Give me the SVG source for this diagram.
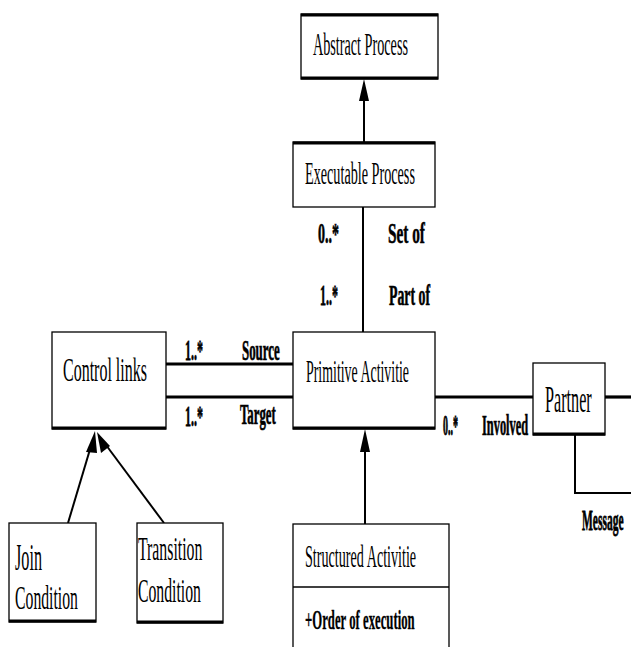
<svg xmlns="http://www.w3.org/2000/svg" width="631" height="647" viewBox="0 0 631 647">
<style>
.box{fill:#fff;stroke:#000;stroke-width:1.3}
.edge{stroke:#000;stroke-width:3;fill:none}
.t{font-family:"Liberation Serif",serif;fill:#000}
.b{font-family:"Liberation Serif",serif;font-weight:bold;fill:#000;stroke:#000;stroke-width:0.3}
.ln{stroke:#000;stroke-width:2;fill:none}
.thk{stroke:#000;stroke-width:3.2;fill:none}
.ah{fill:#000}
</style>
<rect width="631" height="647" fill="#fff"/>
<g id="connectors">
<line class="ln" x1="364" y1="142" x2="364" y2="95"/>
<polygon class="ah" points="364,79 359,101 369,101"/>
<line class="ln" x1="363" y1="207" x2="363" y2="332"/>
<line class="thk" x1="166" y1="364" x2="293" y2="364"/>
<line class="thk" x1="166" y1="397" x2="293" y2="397"/>
<line class="thk" x1="435" y1="397" x2="533" y2="397"/>
<line class="thk" x1="605" y1="397" x2="631" y2="397"/>
<polyline class="ln" points="575,435 575,493 631,493"/>
<line class="ln" x1="365" y1="524" x2="365" y2="445"/>
<polygon class="ah" points="365,429 360,452 370,452"/>
<line class="ln" x1="68" y1="523" x2="91" y2="446"/>
<polygon class="ah" points="95,431 86,452 97,453"/>
<line class="ln" x1="164" y1="523" x2="106" y2="445"/>
<polygon class="ah" points="97,432 101,453 110,446"/>
<text class="b" transform="translate(318,243) scale(1,2.16)" font-size="14">0..*</text>
<text class="b" transform="translate(388,243) scale(1,1.97)" font-size="15.3">Set of</text>
<text class="b" transform="translate(320,305) scale(1,2.5)" font-size="12">1..*</text>
<text class="b" transform="translate(389,305) scale(1,2.19)" font-size="13.8">Part of</text>
<text class="b" transform="translate(185,360) scale(1,2.5)" font-size="12">1..*</text>
<text class="b" transform="translate(242,360) scale(1,2.34)" font-size="12.9">Source</text>
<text class="b" transform="translate(185,426) scale(1,2.5)" font-size="12">1..*</text>
<text class="b" transform="translate(240,424) scale(1,2.36)" font-size="12.8">Target</text>
<text class="b" transform="translate(443,435) scale(1,3)" font-size="10">0..*</text>
<text class="b" transform="translate(482,435) scale(1,2.44)" font-size="12.4">Involved</text>
<text class="b" transform="translate(582,530) scale(1,2.6)" font-size="11.5">Message</text>
</g>
<g id="abstract-process">
<rect class="box" x="301" y="14" width="137" height="65"/>
<line class="edge" x1="301" y1="15" x2="438" y2="15"/>
<line class="edge" x1="301" y1="78" x2="438" y2="78"/>
<text class="t" transform="translate(313,55) scale(1,2.23)" font-size="14.2">Abstract Process</text>
</g>
<g id="executable-process">
<rect class="box" x="293" y="142" width="142" height="65"/>
<line class="edge" x1="293" y1="143" x2="435" y2="143"/>
<text class="t" transform="translate(305,184) scale(1,2.23)" font-size="14.2">Executable Process</text>
</g>
<g id="control-links">
<rect class="box" x="52" y="332" width="114" height="97"/>
<line class="edge" x1="52" y1="428" x2="166" y2="428"/>
<text class="t" transform="translate(63,381) scale(1,2.05)" font-size="16">Control links</text>
</g>
<g id="primitive-activitie">
<rect class="box" x="293" y="332" width="142" height="97"/>
<line class="edge" x1="293" y1="428" x2="435" y2="428"/>
<text class="t" transform="translate(306,382) scale(1,2.3)" font-size="13.9">Primitive Activitie</text>
</g>
<g id="partner">
<rect class="box" x="533" y="363" width="72" height="72"/>
<line class="edge" x1="533" y1="434" x2="605" y2="434"/>
<text class="t" transform="translate(545,412) scale(1,2.32)" font-size="16.2">Partner</text>
</g>
<g id="structured-activitie">
<rect class="box" x="293" y="524" width="156" height="130"/>
<line class="ln" x1="293" y1="587" x2="449" y2="587" style="stroke-width:1.3"/>
<text class="t" transform="translate(305,567) scale(1,2.24)" font-size="14.15">Structured Activitie</text>
<text class="b" transform="translate(305,629) scale(1,2.13)" font-size="12.75" style="stroke-width:0.15">+Order of execution</text>
</g>
<g id="join-condition">
<rect class="box" x="9" y="523" width="87" height="99"/>
<line class="edge" x1="9" y1="621" x2="96" y2="621"/>
<text class="t" transform="translate(15,570) scale(1,2.33)" font-size="16.2">Join</text>
<text class="t" transform="translate(15,609) scale(1,2.2)" font-size="15.75">Condition</text>
</g>
<g id="transition-condition">
<rect class="box" x="137" y="523" width="86" height="100"/>
<line class="edge" x1="137" y1="622" x2="223" y2="622"/>
<text class="t" transform="translate(138,560) scale(1,2.1)" font-size="15.8">Transition</text>
<text class="t" transform="translate(138,602) scale(1,2.1)" font-size="15.75">Condition</text>
</g>
</svg>
